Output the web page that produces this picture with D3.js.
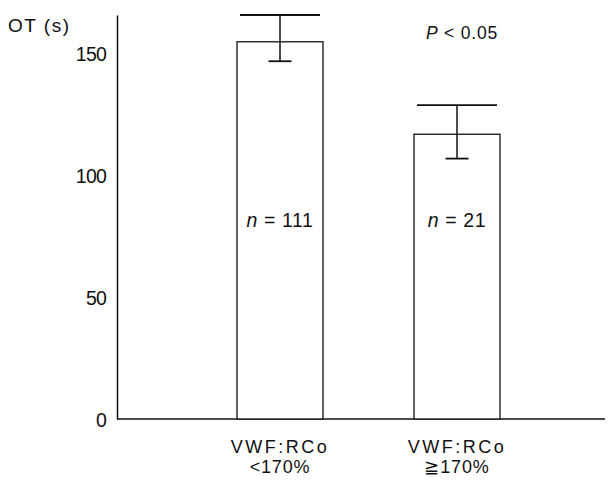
<!DOCTYPE html>
<html>
<head>
<meta charset="utf-8">
<script src="https://cdn.jsdelivr.net/npm/d3@7"></script>
<style>
  html, body { margin: 0; padding: 0; background: #fff; }
  svg { display: block; }
  text { font-family: "Liberation Sans", Arial, sans-serif; fill: #111; }
</style>
</head>
<body>
<svg id="chart" width="608" height="484"></svg>
<script>
const categories = ["lt", "ge"];
const labelLine1 = ["VWF:RCo", "VWF:RCo"];
const labelLine2 = ["<170%", "≧170%"];
const means = [155, 117];
const upper = [166, 129];
const lower = [147, 107];
const nLabels = ["111", "21"];
const yTicks = [0, 50, 100, 150];

const svg = d3.select("#chart");

const x = d3.scaleBand().domain(categories).range([237, 500])
  .paddingInner(1 - 86 / 177).paddingOuter(0);
const y = d3.scaleLinear().domain([0, 166]).range([419, 15]);

const ink = "#111";

// y axis
const yAxis = d3.axisLeft(y).tickValues(yTicks).tickSize(0).tickPadding(11)
  .tickFormat(d3.format("d"));
const gy = svg.append("g").attr("transform", "translate(117,0)").call(yAxis);
gy.select(".domain").attr("stroke", ink).attr("stroke-width", 1.5);
gy.selectAll(".tick text").attr("font-size", 19.5).attr("letter-spacing", -0.8)
  .attr("dy", "0.36em")
  .attr("font-family", "Liberation Sans, Arial, sans-serif").attr("fill", ink);

// baseline
svg.append("line").attr("x1", 117).attr("x2", 605)
  .attr("y1", y(0)).attr("y2", y(0)).attr("stroke", ink).attr("stroke-width", 1.5);

// y title
svg.append("text").attr("x", 8).attr("y", 32).attr("font-size", 19)
  .attr("letter-spacing", 1.5).text("OT (s)");

// bars
svg.selectAll("rect.bar").data(categories).join("rect").attr("class", "bar")
  .attr("x", d => x(d)).attr("width", x.bandwidth())
  .attr("y", (d, i) => y(means[i])).attr("height", (d, i) => y(0) - y(means[i]))
  .attr("fill", "#fff").attr("stroke", ink).attr("stroke-width", 1.3);

// error bars
const cx = d => x(d) + x.bandwidth() / 2;
svg.selectAll("line.err").data(categories).join("line").attr("class", "err")
  .attr("x1", cx).attr("x2", cx)
  .attr("y1", (d, i) => y(upper[i])).attr("y2", (d, i) => y(lower[i]))
  .attr("stroke", ink).attr("stroke-width", 1.5);
svg.selectAll("line.capu").data(categories).join("line").attr("class", "capu")
  .attr("x1", d => cx(d) - 40).attr("x2", d => cx(d) + 40)
  .attr("y1", (d, i) => y(upper[i])).attr("y2", (d, i) => y(upper[i]))
  .attr("stroke", ink).attr("stroke-width", 1.8);
svg.selectAll("line.capl").data(categories).join("line").attr("class", "capl")
  .attr("x1", d => cx(d) - 11.5).attr("x2", d => cx(d) + 11.5)
  .attr("y1", (d, i) => y(lower[i])).attr("y2", (d, i) => y(lower[i]))
  .attr("stroke", ink).attr("stroke-width", 1.8);

// n labels
const nt = svg.selectAll("text.n").data(categories).join("text").attr("class", "n")
  .attr("x", cx).attr("y", 227).attr("text-anchor", "middle").attr("font-size", 19.5)
  .attr("letter-spacing", 0.6).attr("xml:space", "preserve");
nt.append("tspan").attr("font-style", "italic").text("n");
nt.append("tspan").text((d, i) => " = " + nLabels[i]);

// P value
const pt = svg.append("text").attr("x", 462).attr("y", 39).attr("text-anchor", "middle")
  .attr("font-size", 17.5).attr("letter-spacing", 0.8).attr("xml:space", "preserve");
pt.append("tspan").attr("font-style", "italic").text("P");
pt.append("tspan").text(" < 0.05");

// x labels
svg.selectAll("text.xl1").data(categories).join("text").attr("class", "xl1")
  .attr("x", cx).attr("y", 453).attr("text-anchor", "middle").attr("font-size", 18)
  .attr("letter-spacing", 2.5).text((d, i) => labelLine1[i]);
svg.selectAll("text.xl2").data(categories).join("text").attr("class", "xl2")
  .attr("x", cx).attr("y", 473).attr("text-anchor", "middle").attr("font-size", 18)
  .attr("letter-spacing", 0.8).text((d, i) => labelLine2[i]);
</script>
</body>
</html>
